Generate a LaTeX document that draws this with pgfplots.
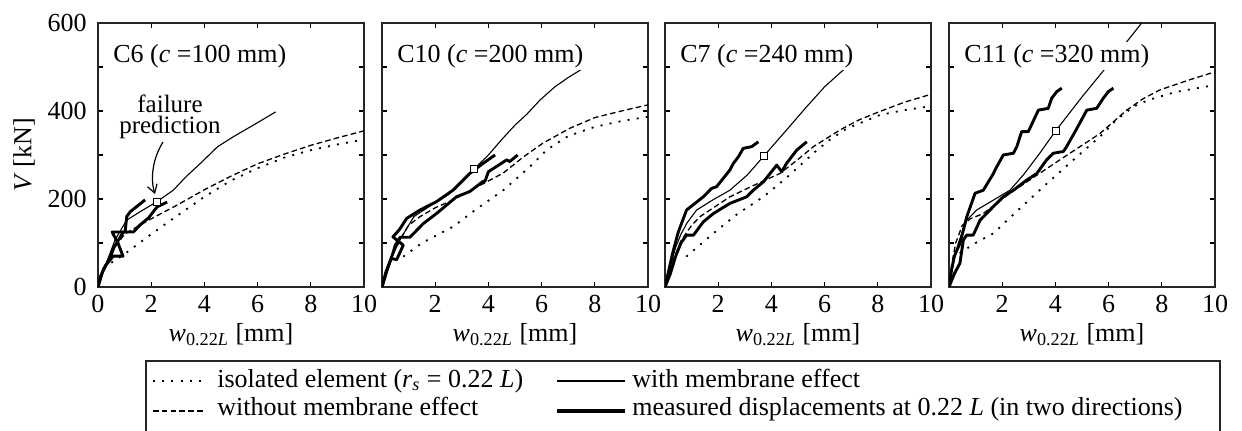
\documentclass[border=0pt]{standalone}
\usepackage{fontspec}
\setmainfont{Liberation Serif}
\usepackage{pgfplots}
\pgfplotsset{compat=1.18}
\usetikzlibrary{arrows.meta}

\newcommand\fs{\fontsize{13}{15}\selectfont}
\newcommand\wlab{\textit{w}\textsubscript{0.22\textit{L}} [mm]}

\tikzset{
  dotl/.style={black, line width=0.9pt, dash pattern=on 1pt off 3.6pt},
  dashl/.style={black, line width=0.65pt, dash pattern=on 2.8pt off 1.6pt},
  thinl/.style={black, line width=0.55pt},
  thickl/.style={black, line width=1.45pt, line join=round},
  ttl/.style={anchor=base west, fill=white, inner sep=1pt, font=\fs},
}

\pgfplotsset{
  panel/.style={
    scale only axis, width=133pt, height=132pt, anchor=north west,
    xmin=0, xmax=10, ymin=0, ymax=600,
    xtick={0,2,...,10}, ytick={0,100,...,600},
    xticklabels={,2,4,6,8,10}, yticklabels={,,,,,,},
    tick align=inside, major tick length=2.6pt,
    tick style={black, line width=0.6pt},
    axis line style={black!85, line width=0.75pt},
    tick label style={font=\fs},
    xticklabel style={anchor=base, yshift=-13pt},
    yticklabel style={anchor=east, inner sep=0pt, xshift=-5.5pt},
    xlabel={\wlab},
    xlabel style={at={(axis description cs:0.5,-0.208)}, anchor=base, font=\fs},
    /pgf/number format/assume math mode=true,
  },
  fail/.style={only marks, mark=square*, mark size=1.8pt,
    mark options={fill=white, draw=black, line width=0.5pt}},
}

\begin{document}
\fs
\begin{tikzpicture}[x=0.5pt, y=-0.5pt]
\useasboundingbox (0,0) rectangle (1242,430);

% C6
\begin{axis}[panel, at={(49pt,-11.5pt)},
  xticklabels={0,2,4,6,8,10}, yticklabels={0,,200,,400,,600},
  ylabel={\textit{V} [kN]},
  ylabel style={at={(axis description cs:-0.278,0.5)}, anchor=center, font=\fs}]
\addplot[dotl] coordinates {(0.5,55)(1,75)(2,120)(3,163)(4,205)(5,242)(6,270)(7,294)(8,311)(9,324)(10,335)};
\addplot[dashl] coordinates {(0,0)(0.2,40)(0.5,80)(1,120)(1.5,138)(2,155)(3,187)(4,221)(5,252)(6,280)(7,302)(8,322)(9,339)(10,355)};
\addplot[thinl] coordinates {(0,0)(0.15,30)(0.35,60)(0.64,107)(1.08,152)(1.58,171)(2.22,194)(2.83,220)(3.3,250)(3.85,281)(4.5,319)(5.1,342)(5.9,370)(6.68,398)};
\addplot[thickl] coordinates {(0,0)(0.1,25)(0.3,50)(0.57,70)(0.94,70)(0.75,100)(0.53,125)(1.02,125)(1.08,160)(1.21,171)(1.46,183)(1.77,198)};
\addplot[thickl] coordinates {(0,0)(0.2,40)(0.45,65)(0.6,90)(0.95,125)(1.33,125)(1.58,141)(1.9,157)(2.22,182)(2.6,193)};
\addplot[fail] coordinates {(2.22,194)};
\node[ttl] at ([xshift=6.5pt,yshift=-19.5pt]rel axis cs:0,1) {C6 (\textit{c} =100 mm)};
\end{axis}

% C10
\begin{axis}[panel, at={(191pt,-11.5pt)}]
\addplot[dotl] coordinates {(0.8,69)(1.5,100)(2.67,137)(3.5,175)(4.56,220)(5.5,270)(6.2,312)(7,343)(8,364)(9,377)(10,387)};
\addplot[dashl] coordinates {(0,0)(0.3,60)(0.7,110)(1,140)(1.43,160)(2,180)(2.67,198)(3.5,225)(4.56,259)(5.3,295)(6.05,327)(7.07,361)(8,385)(9,400)(10,414)};
\addplot[thinl] coordinates {(0,0)(0.3,60)(0.7,110)(1.2,160)(2.0,192)(2.5,210)(3.0,238)(3.46,268)(4,300)(4.5,335)(5,368)(5.45,393)(5.94,425)(6.5,455)(7,476)(7.56,497)};
\addplot[thickl] coordinates {(0,0)(0.15,35)(0.35,65)(0.55,62)(0.8,95)(0.41,114)(0.65,130)(0.93,156)(1.43,175)(2.05,194)(2.67,220)(3.3,258)(3.8,281)(4.25,300)};
\addplot[thickl] coordinates {(0,0)(0.2,40)(0.4,75)(0.5,95)(0.68,113)(1.05,113)(1.55,144)(2.05,167)(2.8,205)(3.3,217)(3.8,240)(3.87,240)(4.0,262)(4.69,289)(4.8,285)(5.1,300)};
\addplot[fail] coordinates {(3.46,268)};
\node[ttl] at ([xshift=6.5pt,yshift=-19.5pt]rel axis cs:0,1) {C10 (\textit{c} =200 mm)};
\end{axis}

% C7
\begin{axis}[panel, at={(332.5pt,-11.5pt)}]
\addplot[dotl] coordinates {(0.8,69)(1.82,122)(2.7,165)(3.7,205)(4.6,250)(5.58,304)(6.2,335)(6.83,360)(8.08,391)(9,402)(10,411)};
\addplot[dashl] coordinates {(0,0)(0.3,60)(0.6,105)(1,140)(1.32,160)(2.44,205)(3.3,230)(4.32,258)(5,290)(5.58,319)(6.58,357)(7.3,380)(8.08,399)(9,420)(10,438)};
\addplot[thinl] coordinates {(0,0)(0.2,50)(0.4,90)(0.6,120)(0.82,145)(1.19,175)(1.8,198)(2.44,220)(3.1,255)(3.72,298)(4.5,352)(5.3,408)(6,455)(6.77,497)};
\addplot[thickl] coordinates {(0,0)(0.15,40)(0.3,80)(0.5,125)(0.81,175)(1.44,205)(1.75,224)(1.94,228)(2.19,247)(2.44,266)(2.57,281)(2.76,296)(2.94,315)(3.26,319)(3.51,330)};
\addplot[thickl] coordinates {(0,0)(0.2,30)(0.4,70)(0.6,100)(0.81,118)(1.07,118)(1.44,148)(1.82,167)(2.44,190)(3.07,205)(3.32,220)(3.7,239)(4.2,277)(4.39,262)(4.57,281)(4.95,311)(5.33,330)};
\addplot[fail] coordinates {(3.72,298)};
\node[ttl] at ([xshift=6.5pt,yshift=-19.5pt]rel axis cs:0,1) {C7 (\textit{c} =240 mm)};
\end{axis}

% C11
\begin{axis}[panel, at={(474.5pt,-11.5pt)}]
\addplot[dotl] coordinates {(0.4,77)(1,100)(1.67,122)(2.6,175)(3.55,228)(4.6,285)(5.68,342)(6.3,380)(6.93,410)(7.5,425)(8.5,443)(9.81,457)};
\addplot[dashl] coordinates {(0,0)(0.1,50)(0.25,100)(0.5,140)(0.8,155)(1.29,167)(2.29,213)(3.2,250)(4.17,289)(5,322)(5.68,349)(6.68,402)(7.3,428)(7.93,448)(9,470)(10,489)};
\addplot[thinl] coordinates {(0,0)(0.15,50)(0.35,100)(0.67,152)(1.04,175)(1.6,195)(2.29,220)(2.8,255)(3.4,303)(4.01,355)(5,432)(6,506)(6.93,576)(7.5,620)};
\addplot[thickl] coordinates {(0,0)(0.1,40)(0.2,70)(0.41,99)(0.67,160)(0.98,213)(1.29,220)(1.67,258)(1.73,266)(2.04,300)(2.42,304)(2.55,319)(2.73,353)(2.98,353)(3.36,402)(3.73,406)(3.86,429)(4.05,444)(4.24,452)};
\addplot[thickl] coordinates {(0,0)(0.2,30)(0.41,54)(0.54,107)(0.67,118)(0.91,118)(1.17,152)(1.67,183)(2.04,205)(2.42,220)(2.92,243)(3.3,258)(3.67,289)(3.92,304)(4.3,308)(4.42,319)(4.74,353)(5.18,402)(5.55,406)(5.8,429)(5.99,444)(6.18,452)};
\addplot[fail] coordinates {(4.01,355)};
\node[ttl] at ([xshift=6.5pt,yshift=-19.5pt]rel axis cs:0,1) {C11 (\textit{c} =320 mm)};
\end{axis}

% failure prediction note
\node[anchor=base, inner sep=0pt, font=\fontsize{12.5}{14}\selectfont] at (170,112) {failure};
\node[anchor=base, inner sep=0pt, font=\fontsize{12.5}{14}\selectfont] at (170,133) {prediction};
\draw[line width=0.6pt, -{Straight Barb[length=4pt,width=5pt]}] (163,142) .. controls (153,158) and (150,178) .. (155,194);

% legend
\draw[black!85, line width=0.75pt] (146,432) -- (146,361) -- (1220,361) -- (1220,432);
\draw[dotl] (153,381) -- (205,381);
\draw[dashl] (153,411) -- (205,411);
\draw[thinl] (557,381) -- (625,381);
\draw[thickl, line width=1.6pt] (557,411) -- (625,411);
\node[anchor=base west, inner sep=0pt] at (217,387) {isolated element (\textit{r}\textsubscript{\textit{s}} = 0.22 \textit{L})};
\node[anchor=base west, inner sep=0pt] at (217,415) {without membrane effect};
\node[anchor=base west, inner sep=0pt] at (632,387) {with membrane effect};
\node[anchor=base west, inner sep=0pt] at (632,415) {measured displacements at 0.22 \textit{L} (in two directions)};
\end{tikzpicture}
\end{document}
